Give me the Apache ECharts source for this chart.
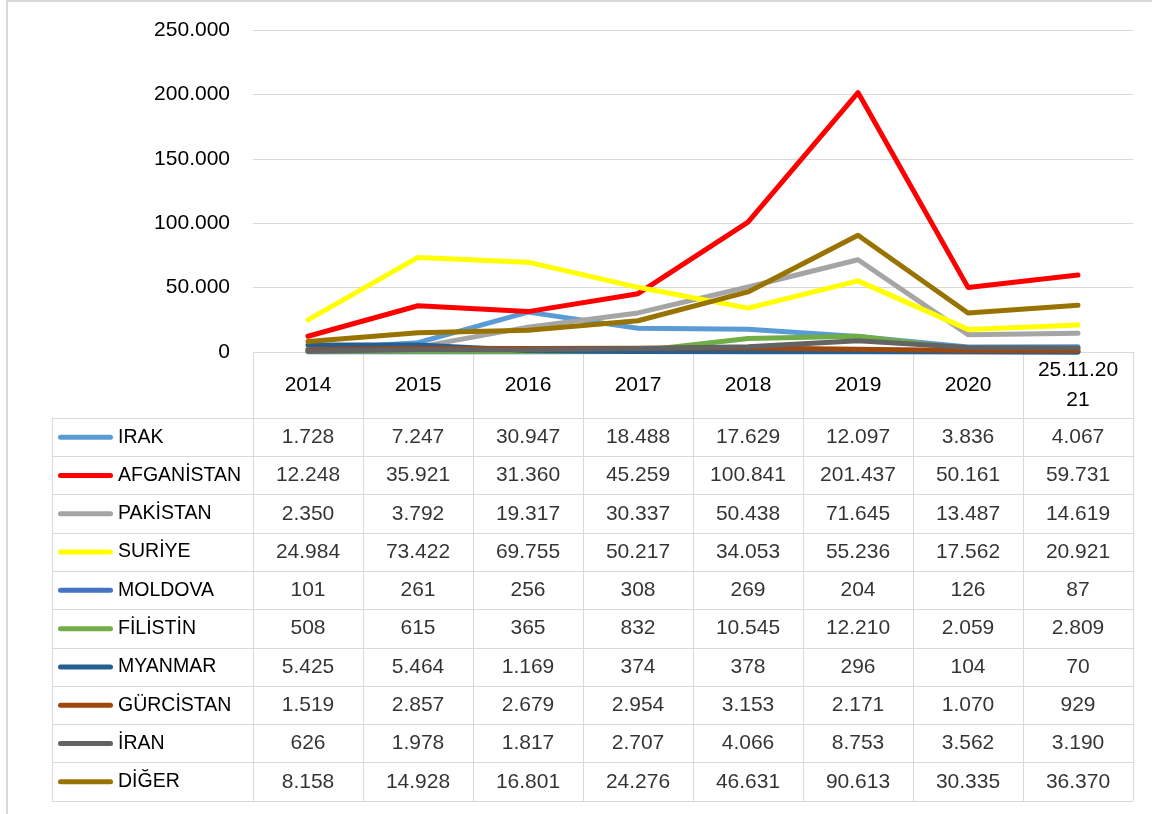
<!DOCTYPE html>
<html>
<head>
<meta charset="utf-8">
<script src="https://cdn.jsdelivr.net/npm/echarts@6/dist/echarts.min.js"></script>
<style>html,body{margin:0;padding:0;background:#fff}#c{width:1152px;height:814px}</style>
</head>
<body>
<div id="c"></div>
<script>
const years = ['2014','2015','2016','2017','2018','2019','2020','25.11.2021'];
const names = ['IRAK','AFGANİSTAN','PAKİSTAN','SURİYE','MOLDOVA','FİLİSTİN','MYANMAR','GÜRCİSTAN','İRAN','DİĞER'];
const irak       = [1728, 7247, 30947, 18488, 17629, 12097, 3836, 4067];
const afganistan = [12248, 35921, 31360, 45259, 100841, 201437, 50161, 59731];
const pakistan   = [2350, 3792, 19317, 30337, 50438, 71645, 13487, 14619];
const suriye     = [24984, 73422, 69755, 50217, 34053, 55236, 17562, 20921];
const moldova    = [101, 261, 256, 308, 269, 204, 126, 87];
const filistin   = [508, 615, 365, 832, 10545, 12210, 2059, 2809];
const myanmar    = [5425, 5464, 1169, 374, 378, 296, 104, 70];
const gurcistan  = [1519, 2857, 2679, 2954, 3153, 2171, 1070, 929];
const iran       = [626, 1978, 1817, 2707, 4066, 8753, 3562, 3190];
const diger      = [8158, 14928, 16801, 24276, 46631, 90613, 30335, 36370];
const yTicks = [0, 50000, 100000, 150000, 200000, 250000];

const values = [irak, afganistan, pakistan, suriye, moldova, filistin, myanmar, gurcistan, iran, diger];
const colors = ['#5B9BD5','#FF0000','#A5A5A5','#FFFF00','#4472C4','#70AD47','#255E91','#9E480E','#636363','#997300'];

const FONT = 'Liberation Sans';
const NUMSIZE = 21;
const NAMESIZE = 19.5;
const GRID = '#D9D9D9';
function fmt(n){ return String(n).replace(/\B(?=(\d{3})+(?!\d))/g, '.'); }

const rich = { n: { fontSize: NAMESIZE, fontFamily: FONT, color: '#000', padding: [0,0,0,5] } };
colors.forEach((c, i) => { rich['k' + i] = { width: 55, height: 5, backgroundColor: c, borderRadius: 2.5 }; });

const lineSeries = names.map((n, i) => ({
  type: 'line', name: n, xAxisIndex: 0, yAxisIndex: 0,
  data: values[i], symbol: 'none', lineStyle: { width: 5, color: colors[i], cap: 'round', join: 'round' },
  itemStyle: { color: colors[i] }, silent: true, clip: false, animation: false
}));

const cells = [];
names.forEach((n, i) => years.forEach((y, j) => cells.push([y, n, values[i][j]])));

const chart = echarts.init(document.getElementById('c'), null, { renderer: 'canvas' });
chart.setOption({
  animation: false,
  textStyle: { fontFamily: FONT },
  graphic: [{ type: 'rect', shape: { x: 7, y: 1, width: 1200, height: 900 }, style: { fill: 'none', stroke: GRID, lineWidth: 2 }, silent: true, z: -10 }],
  grid: [
    { left: 253, right: 19, top: 30, height: 322 },
    { left: 253, right: 19, top: 352, height: 66 },
    { left: 253, right: 19, top: 418, height: 383 }
  ],
  xAxis: [
    { gridIndex: 0, type: 'category', data: years, boundaryGap: true, axisLine: { show: false }, axisTick: { show: false }, axisLabel: { show: false }, splitLine: { show: false } },
    { gridIndex: 1, type: 'category', data: years, boundaryGap: true, position: 'bottom',
      axisLine: { show: true, lineStyle: { color: GRID, width: 1 } }, axisTick: { show: false },
      axisLabel: { show: true, interval: 0, margin: -33, verticalAlign: 'middle', fontSize: NUMSIZE, fontFamily: FONT, color: '#000', lineHeight: 30,
        formatter: v => v.length > 8 ? v.slice(0, 8) + '\n' + v.slice(8) : v },
      splitLine: { show: true, interval: 0, lineStyle: { color: GRID, width: 1 } } },
    { gridIndex: 2, type: 'category', data: years, boundaryGap: true, axisLine: { show: false }, axisTick: { show: false }, axisLabel: { show: false },
      splitLine: { show: true, interval: 0, lineStyle: { color: GRID, width: 1 } } }
  ],
  yAxis: [
    { gridIndex: 0, type: 'value', min: yTicks[0], max: yTicks[yTicks.length - 1], interval: yTicks[1] - yTicks[0],
      axisLine: { show: false }, axisTick: { show: false },
      axisLabel: { margin: 23, fontSize: NUMSIZE, fontFamily: FONT, color: '#000', formatter: v => fmt(v) },
      splitLine: { show: true, lineStyle: { color: GRID, width: 1 } } },
    { gridIndex: 1, type: 'value', show: false },
    { gridIndex: 2, type: 'category', data: names, inverse: true, boundaryGap: true,
      axisLine: { show: true, lineStyle: { color: GRID, width: 1 } },
      axisTick: { show: true, interval: 0, length: 201, lineStyle: { color: GRID, width: 1 } },
      axisLabel: { show: true, interval: 0, margin: 195, align: 'left', rich: rich, formatter: (v, i) => '{k' + i + '|}{n|' + v + '}' },
      splitLine: { show: true, interval: 0, lineStyle: { color: GRID, width: 1 } } },
    { gridIndex: 2, type: 'category', data: names, inverse: true, position: 'left', offset: 201,
      axisLine: { show: true, lineStyle: { color: GRID, width: 1 } }, axisTick: { show: false }, axisLabel: { show: false }, splitLine: { show: false } }
  ],
  series: lineSeries.concat([{
    type: 'scatter', xAxisIndex: 2, yAxisIndex: 2, data: cells, symbolSize: 0, silent: true,
    label: { show: true, position: 'inside', fontSize: NUMSIZE, fontFamily: FONT, color: '#000', formatter: p => fmt(p.value[2]) }
  }])
});
</script>
</body>
</html>
